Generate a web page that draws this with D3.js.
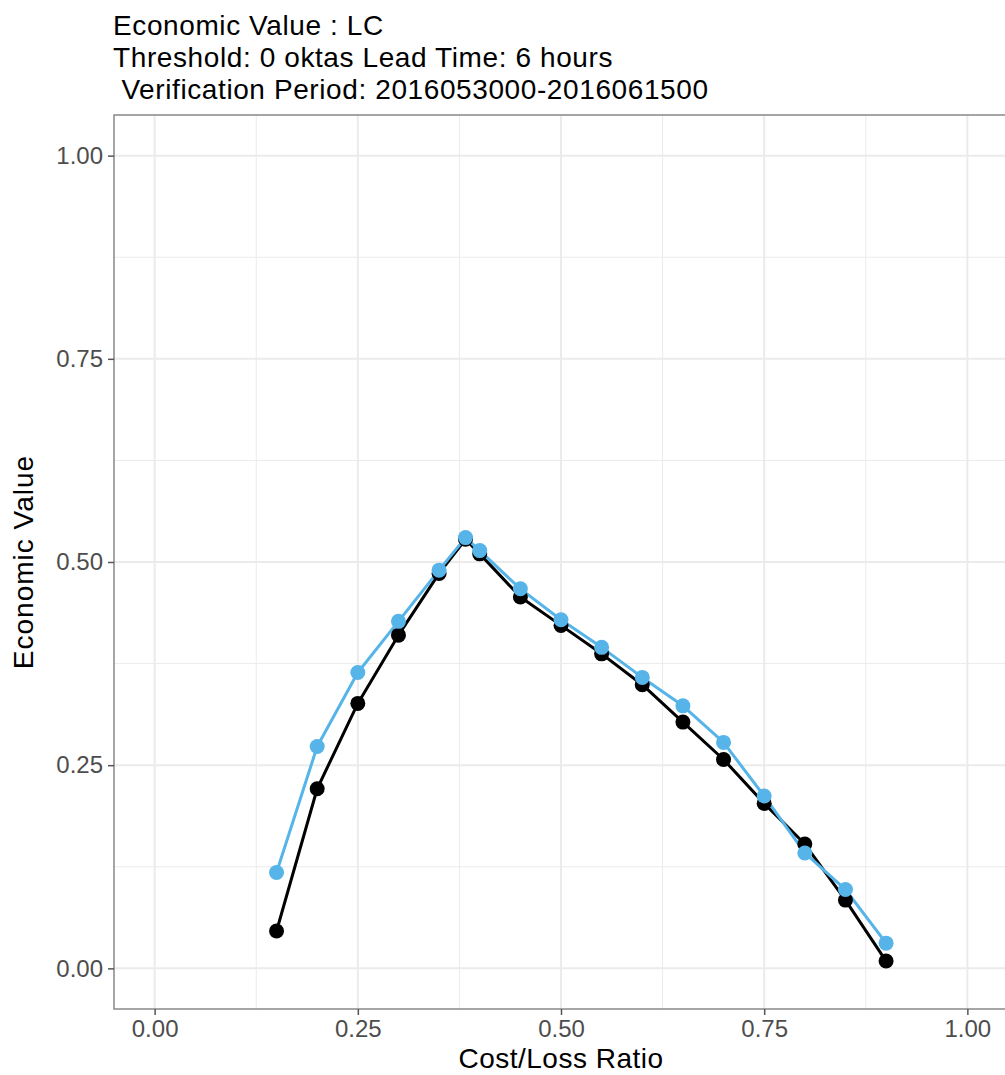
<!DOCTYPE html>
<html>
<head>
<meta charset="utf-8">
<script src="https://cdn.jsdelivr.net/npm/d3@7"></script>
<style>
  html, body { margin: 0; padding: 0; background: #fff; }
  svg text { font-family: "Liberation Sans", Arial, Helvetica, sans-serif; }
</style>
</head>
<body>
<svg id="chart" width="1005" height="1075"></svg>
<script>
// ---- data ----
const costLoss = [0.15, 0.2, 0.25, 0.3, 0.35, 0.3825, 0.4, 0.45, 0.5, 0.55, 0.6, 0.65, 0.7, 0.75, 0.8, 0.85, 0.9];
const seriesBlack = [0.046, 0.221, 0.326, 0.410, 0.486, 0.528, 0.510, 0.457, 0.422, 0.387, 0.349, 0.303, 0.257, 0.203, 0.153, 0.084, 0.009];
const seriesBlue  = [0.118, 0.273, 0.364, 0.427, 0.490, 0.530, 0.514, 0.467, 0.429, 0.395, 0.358, 0.323, 0.278, 0.212, 0.142, 0.097, 0.031];
const majorTicks = [0, 0.25, 0.5, 0.75, 1];
const minorTicks = [0.125, 0.375, 0.625, 0.875];
const titleLines = ["Economic Value : LC", "Threshold: 0 oktas Lead Time: 6 hours", " Verification Period: 2016053000-2016061500"];
const xTitle = "Cost/Loss Ratio";
const yTitle = "Economic Value";
const seriesColors = ["#000000", "#56B4E9"];

// ---- layout ----
const panel = { left: 114, right: 1008, top: 115, bottom: 1009 };
const svg = d3.select("#chart");

const x = d3.scaleLinear().domain([-0.05, 1.05]).range([panel.left, panel.right]);
const y = d3.scaleLinear().domain([-0.05, 1.05]).range([panel.bottom, panel.top]);

svg.append("rect")
  .attr("x", panel.left).attr("y", panel.top)
  .attr("width", panel.right - panel.left).attr("height", panel.bottom - panel.top)
  .attr("fill", "#fff");

const grid = svg.append("g");
minorTicks.forEach(t => {
  grid.append("line").attr("x1", x(t)).attr("x2", x(t)).attr("y1", panel.top).attr("y2", panel.bottom)
    .attr("stroke", "#EBEBEB").attr("stroke-width", 1);
  grid.append("line").attr("y1", y(t)).attr("y2", y(t)).attr("x1", panel.left).attr("x2", panel.right)
    .attr("stroke", "#EBEBEB").attr("stroke-width", 1);
});
majorTicks.forEach(t => {
  grid.append("line").attr("x1", x(t)).attr("x2", x(t)).attr("y1", panel.top).attr("y2", panel.bottom)
    .attr("stroke", "#EBEBEB").attr("stroke-width", 2);
  grid.append("line").attr("y1", y(t)).attr("y2", y(t)).attr("x1", panel.left).attr("x2", panel.right)
    .attr("stroke", "#EBEBEB").attr("stroke-width", 2);
});

const series = [seriesBlack, seriesBlue];
const line = d3.line().x((d, i) => x(costLoss[i])).y(d => y(d));
series.forEach((s, k) => {
  svg.append("path").datum(s).attr("d", line)
    .attr("fill", "none").attr("stroke", seriesColors[k]).attr("stroke-width", 3)
    .attr("stroke-linejoin", "round");
});
series.forEach((s, k) => {
  svg.append("g").selectAll("circle").data(s).join("circle")
    .attr("cx", (d, i) => x(costLoss[i])).attr("cy", d => y(d)).attr("r", 7.5)
    .attr("fill", seriesColors[k]);
});

svg.append("rect")
  .attr("x", panel.left).attr("y", panel.top)
  .attr("width", panel.right - panel.left).attr("height", panel.bottom - panel.top)
  .attr("fill", "none").attr("stroke", "#888").attr("stroke-width", 1.5);

const fmt = d3.format(".2f");
const xAxis = svg.append("g").attr("transform", `translate(0,${panel.bottom})`)
  .call(d3.axisBottom(x).tickValues(majorTicks).tickFormat(fmt).tickSize(6).tickPadding(5));
const yAxis = svg.append("g").attr("transform", `translate(${panel.left},0)`)
  .call(d3.axisLeft(y).tickValues(majorTicks).tickFormat(fmt).tickSize(6).tickPadding(5));
[xAxis, yAxis].forEach(a => {
  a.select(".domain").remove();
  a.selectAll(".tick line").attr("stroke", "#555").attr("stroke-width", 1.5);
  a.selectAll(".tick text").attr("fill", "#4D4D4D").style("font-size", "24px")
    .style("font-family", '"Liberation Sans", Arial, sans-serif');
});

svg.append("text").attr("x", (panel.left + panel.right) / 2).attr("y", 1068)
  .attr("text-anchor", "middle").style("font-size", "28px").style("letter-spacing", "0.5px")
  .attr("fill", "#000").text(xTitle);
svg.append("text").attr("transform", `translate(33,${(panel.top + panel.bottom) / 2}) rotate(-90)`)
  .attr("text-anchor", "middle").style("font-size", "28px").style("letter-spacing", "1px")
  .attr("fill", "#000").text(yTitle);

titleLines.forEach((t, i) => {
  svg.append("text").attr("x", 113).attr("y", 35 + i * 32)
    .style("font-size", "28px").style("letter-spacing", "0.6px").style("white-space", "pre")
    .attr("fill", "#000").text(t);
});
</script>
</body>
</html>
